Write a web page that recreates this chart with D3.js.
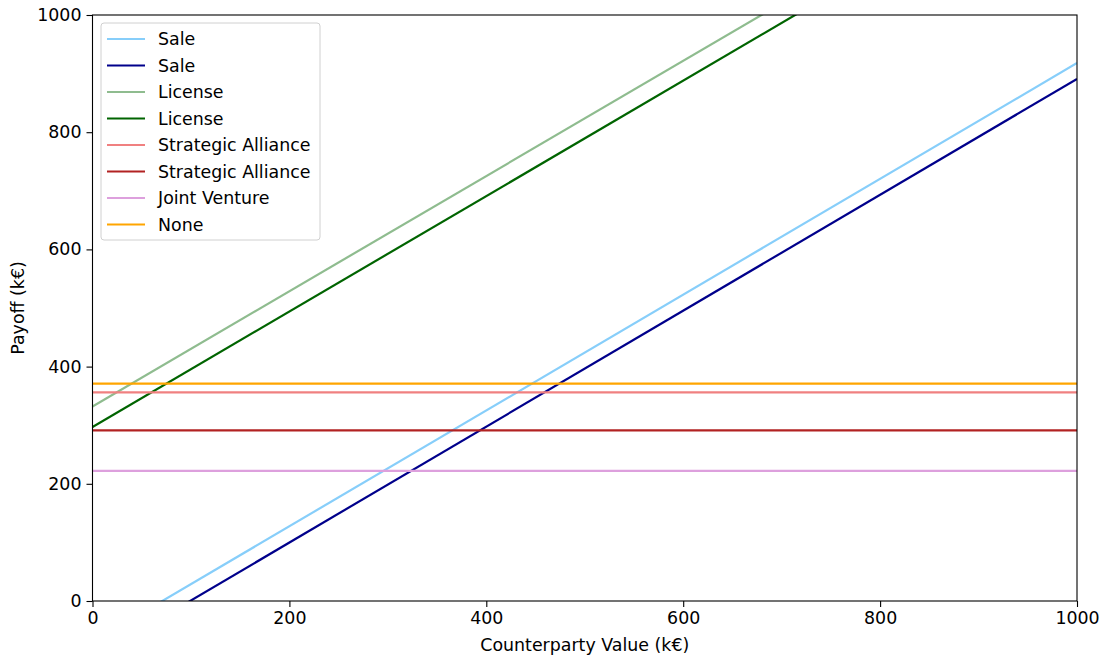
<!DOCTYPE html>
<html><head><meta charset="utf-8">
<script src="https://cdn.jsdelivr.net/npm/d3@7"></script>
<style>body{margin:0;background:#fff;font-family:"DejaVu Sans",sans-serif;}</style>
</head><body>
<svg id="c" width="1101" height="658"></svg>
<script>
const counterpartyValues = [0, 1000];
const saleA = [-70, 918];
const saleB = [-98, 891];
const licenseA = [332, 1315];
const licenseB = [297, 1282];
const allianceA = [356, 356];
const allianceB = [291, 291];
const jointVenture = [222, 222];
const noneVals = [371, 371];
const seriesNames = ["Sale","Sale","License","License","Strategic Alliance","Strategic Alliance","Joint Venture","None"];
const seriesColors = ["#87CEFA","#00008B","#8FBC8F","#006400","#F08080","#B22222","#DDA0DD","#FFA500"];
const seriesValues = [saleA, saleB, licenseA, licenseB, allianceA, allianceB, jointVenture, noneVals];
const xTicks = [0,200,400,600,800,1000];
const yTicks = [0,200,400,600,800,1000];

const svg = d3.select("#c");
const m = {l:92.5, r:1077, t:15, b:601};
const x = d3.scaleLinear().domain([0,1000]).range([m.l, m.r]);
const y = d3.scaleLinear().domain([0,1000]).range([m.b, m.t]);
const fs = 17.4;

svg.append("defs").append("clipPath").attr("id","clip")
  .append("rect").attr("x",m.l).attr("y",m.t).attr("width",m.r-m.l).attr("height",m.b-m.t);

const g = svg.append("g").attr("clip-path","url(#clip)");
const line = d3.line().x(d=>x(d[0])).y(d=>y(d[1]));
seriesValues.forEach((vals,i)=>{
  g.append("path").datum(counterpartyValues.map((v,j)=>[v, vals[j]]))
   .attr("d", line).attr("fill","none").attr("stroke", seriesColors[i]).attr("stroke-width",2.2);
});

const xa = svg.append("g").attr("transform",`translate(0,${m.b})`)
  .call(d3.axisBottom(x).tickValues(xTicks).tickFormat(d3.format("d")).tickSize(6).tickPadding(5));
const ya = svg.append("g").attr("transform",`translate(${m.l},0)`)
  .call(d3.axisLeft(y).tickValues(yTicks).tickFormat(d3.format("d")).tickSize(6).tickPadding(5));
[xa,ya].forEach(a=>{
  a.selectAll("text").attr("font-size",fs).attr("font-family","DejaVu Sans").attr("fill","#000");
  a.selectAll("line").attr("stroke","#000").attr("stroke-width",1.1);
  a.select(".domain").remove();
});
svg.append("rect").attr("x",m.l).attr("y",m.t).attr("width",m.r-m.l).attr("height",m.b-m.t)
  .attr("fill","none").attr("stroke","#000").attr("stroke-width",1.1);

svg.append("text").attr("x",(m.l+m.r)/2).attr("y",651).attr("text-anchor","middle")
  .attr("font-size",fs).text("Counterparty Value (k€)");
svg.append("text").attr("transform",`translate(24,${(m.t+m.b)/2}) rotate(-90)`).attr("text-anchor","middle")
  .attr("font-size",fs).text("Payoff (k€)");

const lg = svg.append("g");
lg.append("rect").attr("x",101).attr("y",23).attr("width",219).attr("height",217)
  .attr("rx",3).attr("fill","#fff").attr("fill-opacity",0.8).attr("stroke","#d0d0d0").attr("stroke-width",1);
seriesNames.forEach((n,i)=>{
  const yy = 39 + i*26.5;
  lg.append("line").attr("x1",107).attr("x2",145).attr("y1",yy).attr("y2",yy)
    .attr("stroke",seriesColors[i]).attr("stroke-width",2.2);
  lg.append("text").attr("x",158).attr("y",yy).attr("dy","0.35em").attr("font-size",fs).text(n);
});
</script>
</body></html>
